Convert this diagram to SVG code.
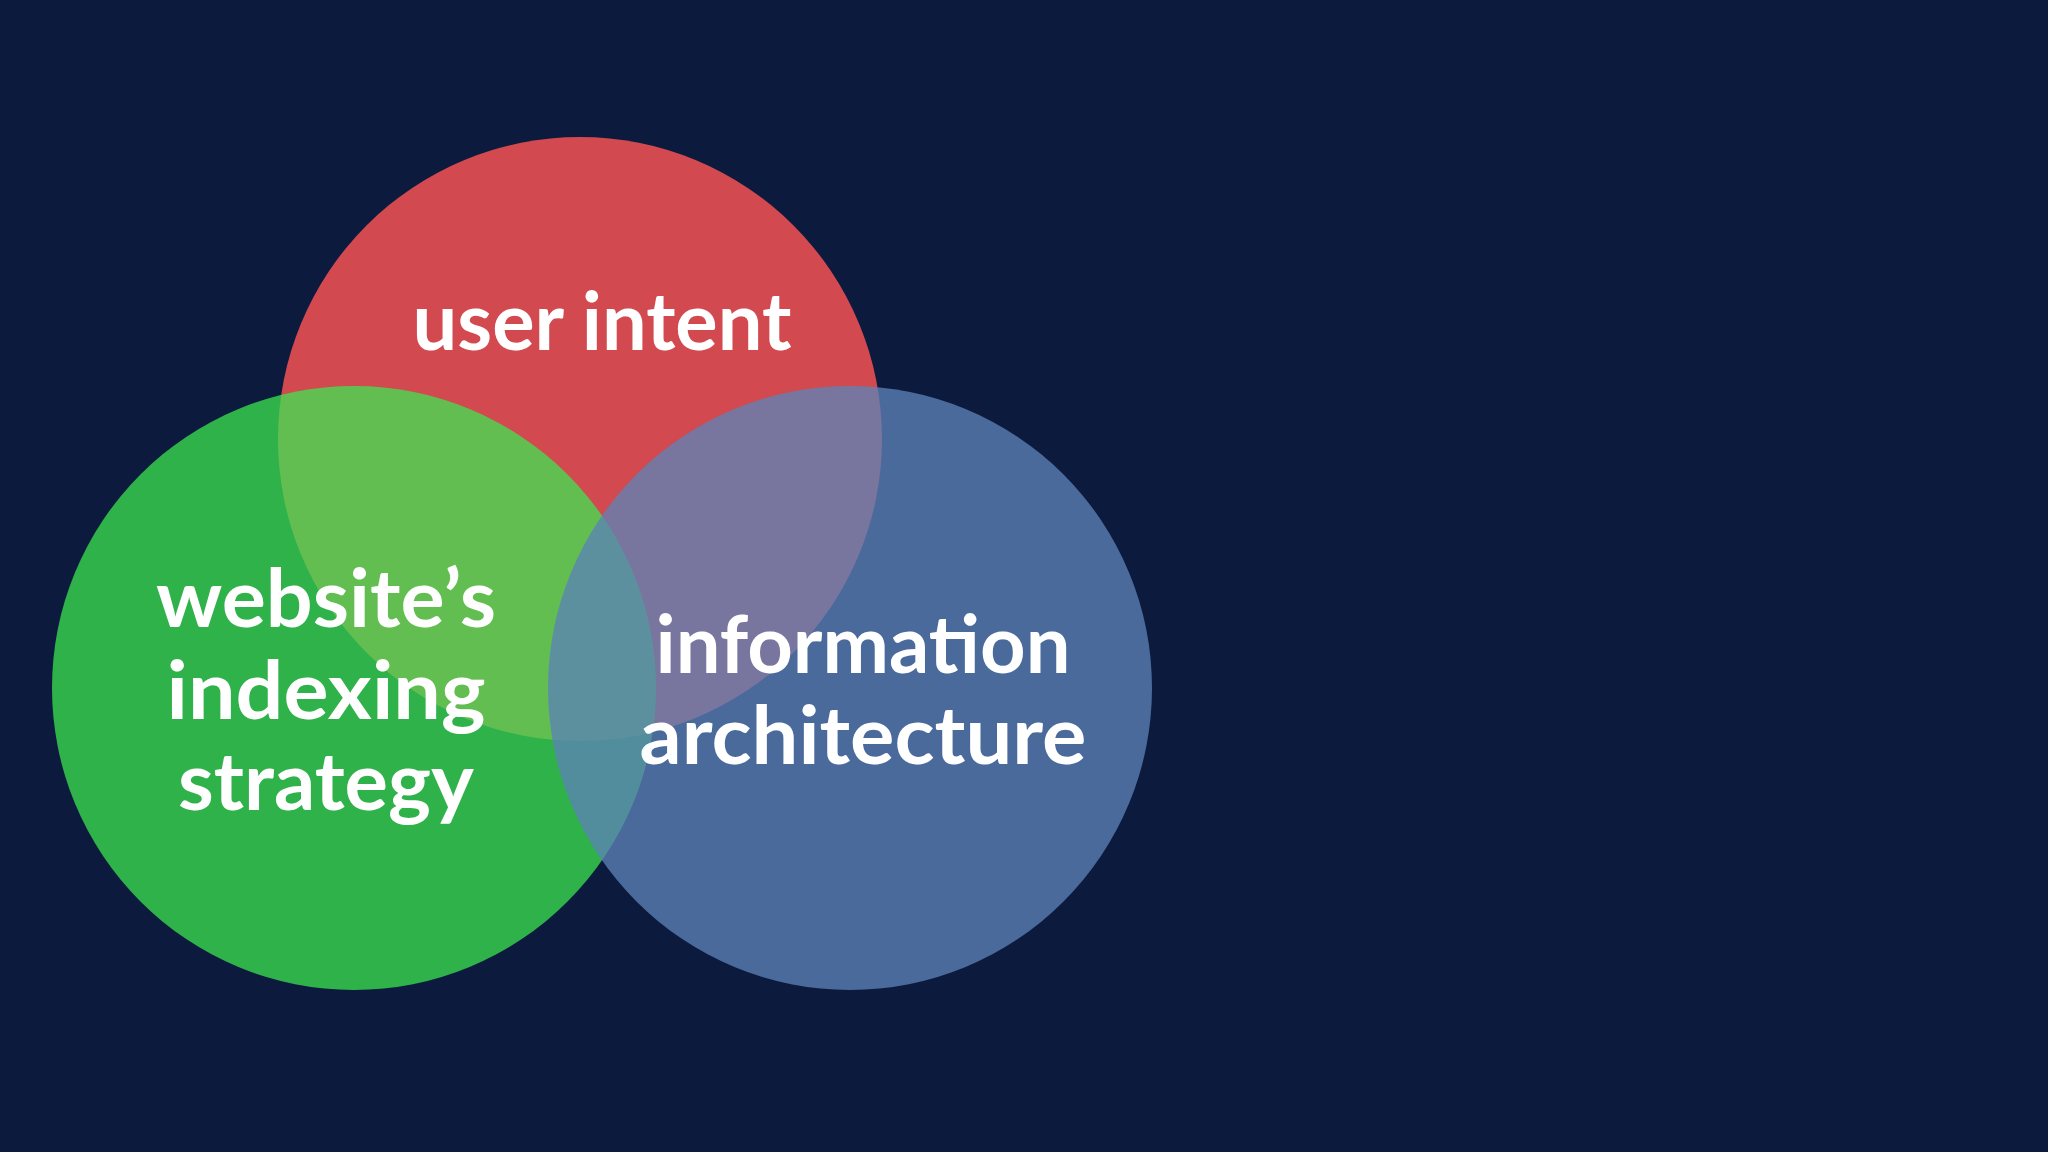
<svg xmlns="http://www.w3.org/2000/svg" width="2048" height="1152" viewBox="0 0 2048 1152">
<style>
text{font-family:"Lato","Noto Sans",sans-serif;font-weight:bold;font-size:80px;fill:#fff;text-anchor:middle}
</style>
<rect width="2048" height="1152" fill="#0c1a3e"/>
<g id="red"><circle cx="580" cy="439" r="302" fill="#d24a50"/></g>
<g id="green"><circle cx="354" cy="688" r="302" fill="rgb(60,230,80)" fill-opacity="0.75"/></g>
<g id="blue"><circle cx="850" cy="688" r="302" fill="rgb(92,130,184)" fill-opacity="0.77"/></g>
<g id="labels">
<text x="602" y="350" textLength="379" lengthAdjust="spacingAndGlyphs">user intent</text>
<text x="326" y="627" textLength="340" lengthAdjust="spacingAndGlyphs">website’s</text>
<text x="326" y="719" textLength="319" lengthAdjust="spacingAndGlyphs">indexing</text>
<text x="326" y="810" textLength="296" lengthAdjust="spacingAndGlyphs">strategy</text>
<text x="863" y="673" textLength="415" lengthAdjust="spacingAndGlyphs">information</text>
<text x="863" y="764" textLength="447" lengthAdjust="spacingAndGlyphs">architecture</text>
</g>
</svg>
